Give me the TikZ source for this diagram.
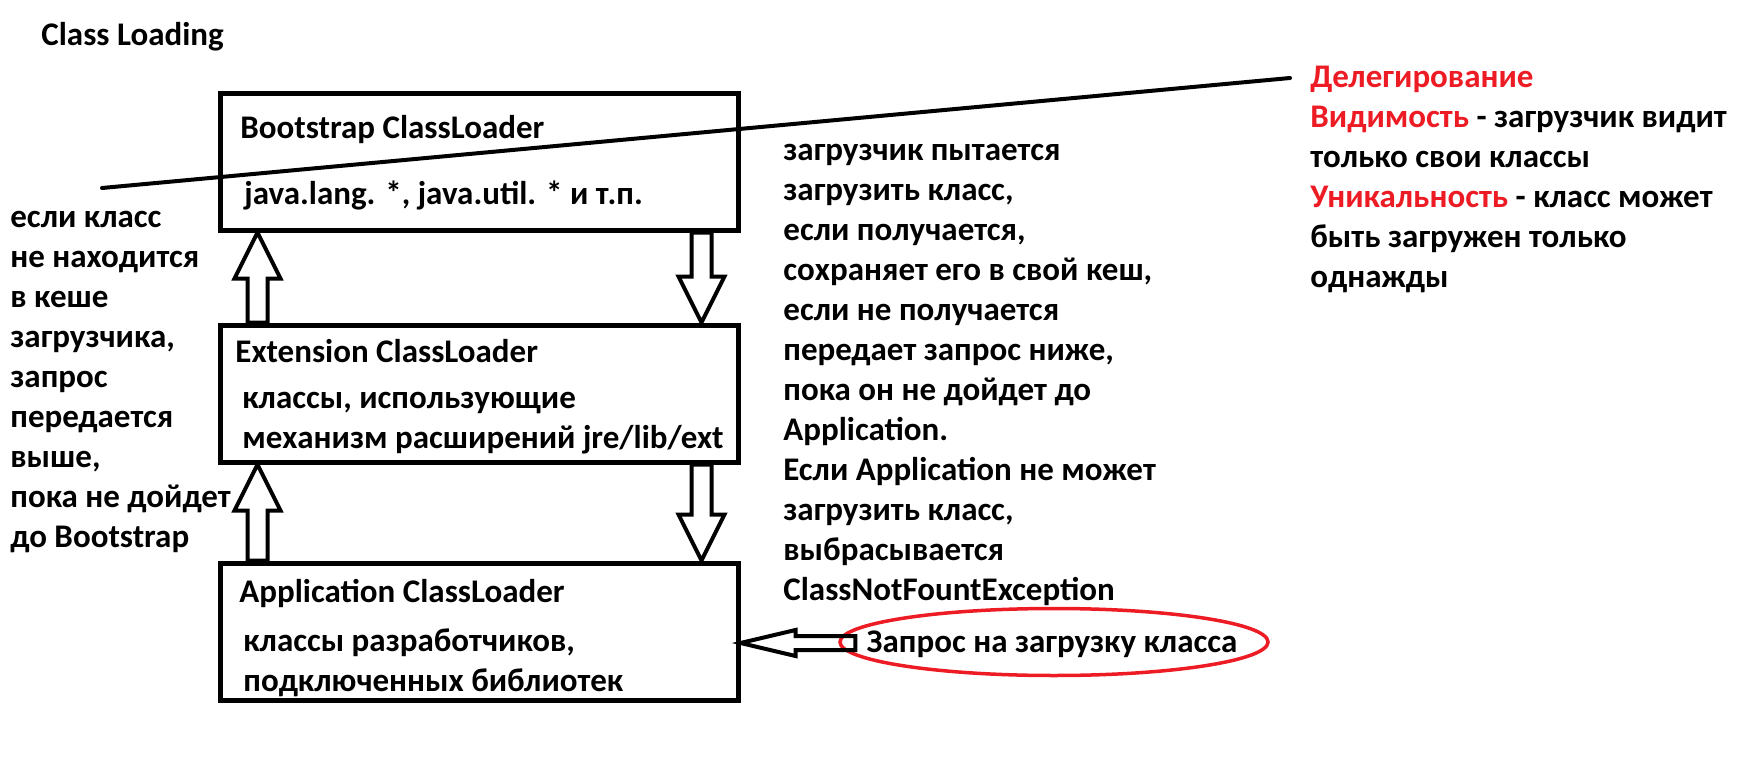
\documentclass[tikz,border=0pt]{standalone}
\usepackage{fontspec}
\setmainfont{Carlito}
\usepackage{tikz}
\usetikzlibrary{calc,shapes.geometric}
\definecolor{paintred}{RGB}{237,28,36}

\tikzset{
	loaderbox/.style={draw, line width=2.5pt, minimum width=259pt, minimum height=68.5pt, inner sep=0pt},
	txt/.style={anchor=base west, inner sep=0pt, align=left, font=\fontsize{16.5}{20}\selectfont\bfseries},
	blockline/.style={line width=2pt, line join=miter},
}

% hollow block arrow: tail, tip, shaft half width, head half width, head length
\newcommand{\hollowarrow}[5]{%
	\coordinate (hb) at ($(#2)!#5!(#1)$);
	\draw[blockline] ($(#1)!#3!90:(#2)$) -- ($(hb)!#3!-90:(#1)$) -- ($(hb)!#4!-90:(#1)$) -- (#2)
		-- ($(hb)!#4!90:(#1)$) -- ($(hb)!#3!90:(#1)$) -- ($(#1)!#3!-90:(#2)$) -- cycle;
}

\begin{document}
\begin{tikzpicture}[x=0.5pt, y=-0.5pt]

		\useasboundingbox (0,0) rectangle (1753,766);

		% title
		\node[txt] (title) at (41,45) {Class Loading};

		% class loaders
		\node[loaderbox] (boot) at (479,161.5) {};
		\node[loaderbox] (ext) at (479,393.5) {};
		\node[loaderbox] (app) at (479,631.5) {};

		% (multi-line texts sit on the baseline of their last line)
		\node[txt] (bootname) at (240,138) {Bootstrap ClassLoader};
		\node[txt] (bootcls) at (244,204) {java.lang. *, java.util. * и т.п.};
		\node[txt] (extname) at (235,362) {Extension ClassLoader};
		\node[txt] (extcls) at (242,448) {классы, использующие\\механизм расширений jre/lib/ext};
		\node[txt] (appname) at (239,602) {Application ClassLoader};
		\node[txt] (appcls) at (243,691) {классы разработчиков,\\подключенных библиотек};

		% request
		\node[draw=paintred, line width=1.75pt, ellipse, minimum width=214pt, minimum height=33.5pt, inner sep=0pt] (req) at (1054,642) {};
		\node[txt, anchor=base] (reqtext) at (1052,652) {Запрос на загрузку класса};

		% delegation upwards
		\coordinate (up1t) at ($(ext.north west)+(40,0)$);
		\coordinate (up1h) at ($(boot.south west)+(40,0)$);
		\coordinate (up2t) at ($(app.north west)+(40,0)$);
		\coordinate (up2h) at ($(ext.south west)+(40,0)$);
		\hollowarrow{up1t}{up1h}{5pt}{11.5pt}{23pt}
		\hollowarrow{up2t}{up2h}{5pt}{11.5pt}{23pt}

		% loading downwards
		\coordinate (dn1t) at ($(boot.south east)+(-39,0)$);
		\coordinate (dn1h) at ($(ext.north east)+(-39,0)$);
		\coordinate (dn2t) at ($(ext.south east)+(-39,0)$);
		\coordinate (dn2h) at ($(app.north east)+(-39,0)$);
		\hollowarrow{dn1t}{dn1h}{5pt}{11.5pt}{23pt}
		\hollowarrow{dn2t}{dn2h}{5pt}{11.5pt}{23pt}

		% request into application loader
		\coordinate (reqt) at ($(req.west)+(17,1)$);
		\coordinate (reqh) at (app.east |- reqt);
		\hollowarrow{reqt}{reqh}{3.5pt}{6.5pt}{27.5pt}

		% explanations
		\node[txt] (upnote) at (10,547) {если класс\\не находится\\в кеше\\загрузчика,\\запрос\\передается\\выше,\\пока не дойдет\\до Bootstrap};
		\node[txt] (downnote) at (783,600) {загрузчик пытается\\загрузить класс,\\если получается,\\сохраняет его в свой кеш,\\если не получается\\передает запрос ниже,\\пока он не дойдет до\\Application.\\Если Application не может\\загрузить класс,\\выбрасывается\\ClassNotFountException};
		\node[txt] (principles) at (1310,287) {\textcolor{paintred}{Делегирование}\\\textcolor{paintred}{Видимость} - загрузчик видит\\только свои классы\\\textcolor{paintred}{Уникальность} - класс может\\быть загружен только\\однажды};

		% stroke across
		\coordinate (strokeA) at (102,188);
		\coordinate (strokeB) at (1290,78);
		\draw[line width=2pt, line cap=round] (strokeA) -- (strokeB);

\end{tikzpicture}
\end{document}
